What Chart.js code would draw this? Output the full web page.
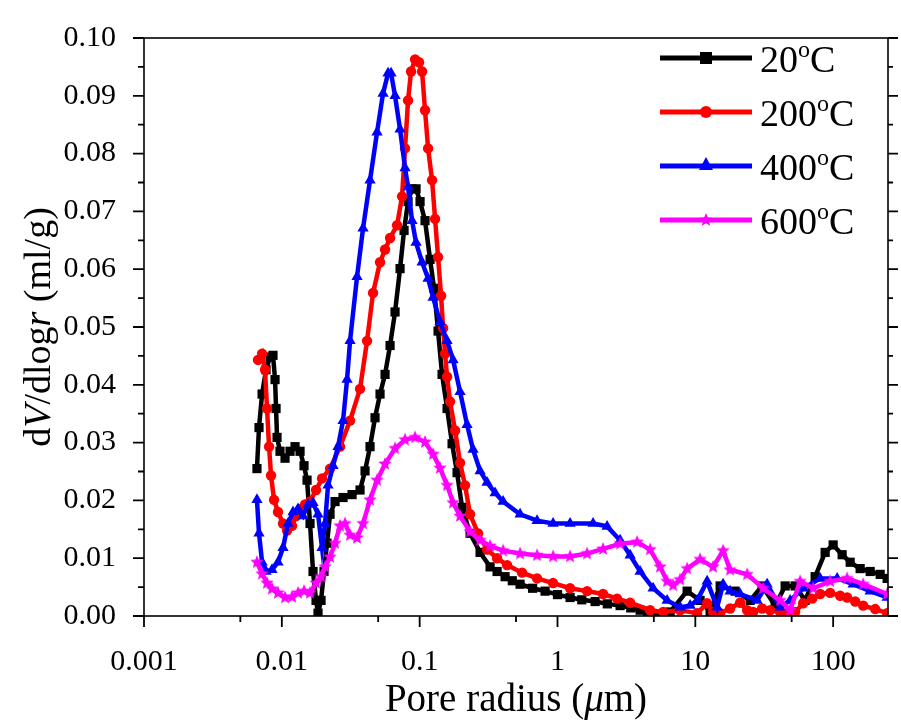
<!DOCTYPE html>
<html><head><meta charset="utf-8">
<script src="https://cdn.jsdelivr.net/npm/chart.js@4/dist/chart.umd.min.js"></script>
<style>html,body{margin:0;padding:0;background:#fff}canvas{display:block}</style>
</head><body>
<canvas id="c" width="901" height="724"></canvas>
<script>
// ---- data ----
const seriesNames = ['20', '200', '400', '600'];           // temperature, °C
const xTickValues = [0.001, 0.01, 0.1, 1, 10, 100];
const xTickLabels = ['0.001', '0.01', '0.1', '1', '10', '100'];
const yTickValues = [0, 0.01, 0.02, 0.03, 0.04, 0.05, 0.06, 0.07, 0.08, 0.09, 0.10];

const radius20 = [0.0066,0.00683,0.00719,0.00768,0.00821,0.00863,0.00893,0.00908,0.00923,0.0097,0.01055,0.01147,0.01247,0.01356,0.01449,0.01524,0.01602,0.01684,0.01771,0.01831,0.01925,0.02024,0.02128,0.02238,0.02433,0.02781,0.03232,0.03694,0.04016,0.04365,0.04746,0.05159,0.0561,0.061,0.06629,0.07207,0.07706,0.08237,0.08806,0.09417,0.1007,0.1094,0.119,0.1272,0.136,0.1454,0.1581,0.1719,0.1868,0.2031,0.2321,0.2744,0.3243,0.3646,0.4167,0.47,0.5353,0.66,0.8128,1.0,1.234,1.5,1.875,2.3,2.847,3.4,3.976,4.5,5.108,6.563,8.721,10.83,12.8,15.14,19.44,24.99,30.53,37.94,44.85,53.0,62.63,74.02,87.48,100,116.2,132.9,157,185.6,219.4,246.5];
const dv20 = [0.0255,0.0326,0.0384,0.0426,0.0448,0.0451,0.0409,0.0359,0.0309,0.0285,0.0273,0.0285,0.0293,0.0285,0.0260,0.0235,0.0160,0.0077,0.0027,0.0005,0.0027,0.0077,0.0126,0.0176,0.0198,0.0205,0.0210,0.0218,0.0251,0.0293,0.0343,0.0384,0.0418,0.0468,0.0526,0.0601,0.0667,0.0717,0.0739,0.0739,0.0717,0.0684,0.0617,0.0567,0.0493,0.0418,0.0359,0.0298,0.0248,0.0188,0.0143,0.0110,0.0085,0.0077,0.0068,0.0061,0.0055,0.0048,0.0043,0.0037,0.0032,0.0028,0.0025,0.0021,0.0018,0.0014,0.0010,0.0006,0.0003,0.0007,0.0043,0.0027,0.0007,0.0052,0.0043,0.0027,0.0052,0.0018,0.0052,0.0052,0.0027,0.0068,0.0110,0.0123,0.0106,0.0093,0.0082,0.0077,0.0072,0.0065];

const radius200 = [0.00672,0.00719,0.00755,0.00781,0.00808,0.00835,0.00878,0.00938,0.0102,0.01091,0.01186,0.01268,0.01356,0.01474,0.01602,0.01771,0.01957,0.02238,0.02645,0.03126,0.03694,0.04152,0.0459,0.05159,0.0561,0.061,0.06855,0.07452,0.07834,0.08237,0.08661,0.09261,0.09899,0.1041,0.1094,0.1151,0.123,0.1294,0.136,0.143,0.1479,0.1529,0.1581,0.1662,0.1807,0.1964,0.2135,0.2321,0.2653,0.3084,0.3646,0.4309,0.5535,0.7112,0.9292,1.234,1.64,2.142,2.707,3.365,4.699,5.839,7.757,10.31,12.18,13.46,15.14,17.88,21.14,23.77,26.27,30.53,34.89,41.25,46.37,53.0,60.57,70.41,80.46,95.1,112.4,126.4,144.5,165.1,201.8,246.5];
const dv200 = [0.0443,0.0454,0.0426,0.0359,0.0293,0.0243,0.0201,0.0180,0.0160,0.0148,0.0156,0.0173,0.0185,0.0193,0.0198,0.0218,0.0238,0.0255,0.0293,0.0338,0.0393,0.0476,0.0559,0.0612,0.0634,0.0654,0.0676,0.0726,0.0809,0.0892,0.0942,0.0963,0.0958,0.0942,0.0875,0.0809,0.0754,0.0687,0.0621,0.0554,0.0498,0.0454,0.0414,0.0371,0.0321,0.0265,0.0226,0.0176,0.0143,0.0115,0.0100,0.0088,0.0075,0.0065,0.0057,0.0048,0.0043,0.0038,0.0030,0.0023,0.0010,0.0007,0.0010,0.0005,0.0022,0.0007,0.0005,0.0013,0.0023,0.0010,0.0007,0.0013,0.0010,0.0007,0.0005,0.0007,0.0022,0.0030,0.0038,0.0040,0.0035,0.0032,0.0025,0.0018,0.0012,0.0005];

const radius400 = [0.0066,0.00683,0.00719,0.00768,0.00849,0.00938,0.0102,0.01109,0.01206,0.01311,0.01425,0.01549,0.01684,0.01831,0.01957,0.02059,0.02164,0.02353,0.02557,0.02781,0.02973,0.03126,0.03513,0.03884,0.04365,0.04908,0.05425,0.05899,0.06202,0.06629,0.07207,0.07834,0.08237,0.08806,0.09417,0.1041,0.1151,0.1251,0.1406,0.1581,0.1748,0.1964,0.2208,0.2441,0.2744,0.3084,0.3526,0.403,0.5353,0.7112,0.9292,1.234,1.813,2.29,2.847,3.365,3.976,4.941,6.243,7.757,9.17,10.31,12.18,14.39,15.91,17.88,21.14,28.09,33.19,41.25,48.75,60.57,80.46,106.9,139.7,185.6,246.5];
const dv400 = [0.0201,0.0143,0.0093,0.0077,0.0080,0.0093,0.0118,0.0160,0.0180,0.0185,0.0173,0.0193,0.0196,0.0176,0.0118,0.0160,0.0226,0.0260,0.0293,0.0338,0.0409,0.0476,0.0587,0.0671,0.0754,0.0837,0.0904,0.0939,0.0939,0.0900,0.0842,0.0775,0.0742,0.0684,0.0646,0.0612,0.0584,0.0551,0.0509,0.0476,0.0443,0.0388,0.0331,0.0288,0.0251,0.0231,0.0213,0.0198,0.0176,0.0165,0.0160,0.0160,0.0160,0.0155,0.0131,0.0105,0.0077,0.0048,0.0027,0.0015,0.0018,0.0027,0.0060,0.0015,0.0055,0.0043,0.0038,0.0027,0.0055,0.0015,0.0027,0.0048,0.0065,0.0065,0.0055,0.0043,0.0032];

const radius600 = [0.0066,0.00719,0.00781,0.00849,0.00938,0.01055,0.01186,0.01311,0.01449,0.01602,0.01771,0.01925,0.02059,0.02238,0.02433,0.02645,0.02875,0.03126,0.03513,0.03884,0.04365,0.04908,0.0561,0.06629,0.07834,0.09261,0.1094,0.1251,0.1406,0.1581,0.1748,0.1964,0.2321,0.2744,0.3243,0.403,0.5353,0.7112,0.9292,1.234,1.64,2.142,2.847,3.782,4.699,5.554,6.243,6.902,7.757,8.721,10.83,13.46,15.91,17.88,23.77,31.05,41.25,48.75,57.62,71.59,95.1,126.4,165.1,246.5];
const dv600 = [0.0093,0.0073,0.0057,0.0047,0.0040,0.0032,0.0033,0.0040,0.0043,0.0040,0.0057,0.0068,0.0085,0.0102,0.0126,0.0156,0.0160,0.0140,0.0135,0.0160,0.0201,0.0235,0.0263,0.0290,0.0305,0.0309,0.0301,0.0280,0.0256,0.0226,0.0196,0.0173,0.0146,0.0131,0.0121,0.0113,0.0108,0.0105,0.0103,0.0103,0.0108,0.0116,0.0125,0.0128,0.0115,0.0085,0.0060,0.0053,0.0063,0.0082,0.0098,0.0085,0.0113,0.0080,0.0072,0.0048,0.0027,0.0010,0.0060,0.0048,0.0060,0.0065,0.0055,0.0038];

// ---- styling ----
const SERIF = "'Liberation Serif','Times New Roman',serif";
const colors = ['#000000', '#ff0000', '#0000ff', '#ff00ff'];

function starImage(color, r) {
  const c = document.createElement('canvas');
  const s = Math.ceil(r * 2 + 2);
  c.width = s; c.height = s;
  const g = c.getContext('2d');
  g.fillStyle = color;
  g.beginPath();
  for (let i = 0; i < 10; i++) {
    const a = -Math.PI / 2 + i * Math.PI / 5;
    const rr = i % 2 ? r * 0.45 : r;
    g.lineTo(s / 2 + rr * Math.cos(a), s / 2 + rr * Math.sin(a));
  }
  g.closePath(); g.fill();
  return c;
}
const star = starImage('#ff00ff', 7);
const pointStyles = ['rect', 'circle', 'triangle', star];
const pointRadii = [6.5, 5.2, 6.5, 7];

function pts(xs, ys) {
  const n = Math.min(xs.length, ys.length), out = [];
  for (let i = 0; i < n; i++) out.push({x: xs[i], y: ys[i]});
  return out;
}
const allX = [radius20, radius200, radius400, radius600];
const allY = [dv20, dv200, dv400, dv600];

const datasets = seriesNames.map((name, i) => ({
  label: name + '°C',
  data: pts(allX[i], allY[i]),
  borderColor: colors[i],
  backgroundColor: colors[i],
  borderWidth: 4.5,
  pointStyle: pointStyles[i],
  pointRadius: pointRadii[i],
  pointBorderWidth: 0,
  pointBackgroundColor: colors[i],
  order: 4 - i,
  tension: 0
}));

// frame, ticks, titles, legend
const decor = {
  id: 'decor',
  afterDraw(chart) {
    const ctx = chart.ctx, a = chart.chartArea;
    const xs = chart.scales.x, ys = chart.scales.y;
    ctx.save();
    ctx.strokeStyle = '#000';
    ctx.lineWidth = 1.6;
    ctx.strokeRect(a.left, a.top, a.right - a.left, a.bottom - a.top);
    ctx.lineWidth = 1.8;
    ctx.beginPath();
    xTickValues.forEach(v => {
      const p = xs.getPixelForValue(v);
      ctx.moveTo(p, a.bottom); ctx.lineTo(p, a.bottom + 11);
      const m = v * 5;
      if (m < xs.max) { const q = xs.getPixelForValue(m); ctx.moveTo(q, a.bottom); ctx.lineTo(q, a.bottom + 6); }
    });
    yTickValues.forEach((v, i) => {
      const p = ys.getPixelForValue(v);
      ctx.moveTo(a.left, p); ctx.lineTo(a.left - 11, p);
      ctx.moveTo(a.right, p); ctx.lineTo(a.right + 10, p);
      if (i < yTickValues.length - 1) {
        const q = ys.getPixelForValue(v + 0.005);
        ctx.moveTo(a.left, q); ctx.lineTo(a.left - 6, q);
        ctx.moveTo(a.right, q); ctx.lineTo(a.right + 5, q);
      }
    });
    ctx.stroke();

    function drawParts(parts, size) {
      let total = 0;
      parts.forEach(p => { ctx.font = (p[1] ? 'italic ' : '') + size + 'px ' + SERIF; p.w = ctx.measureText(p[0]).width; total += p.w; });
      let x = -total / 2;
      parts.forEach(p => { ctx.font = (p[1] ? 'italic ' : '') + size + 'px ' + SERIF; ctx.fillText(p[0], x, 0); x += p.w; });
    }
    ctx.fillStyle = '#000';
    ctx.textBaseline = 'alphabetic';
    ctx.textAlign = 'left';
    ctx.save();
    ctx.translate((a.left + a.right) / 2, 711);
    drawParts([['Pore radius (', false], ['\u03bc', true], ['m)', false]], 39);
    ctx.restore();
    ctx.save();
    ctx.translate(50, (a.top + a.bottom) / 2);
    ctx.rotate(-Math.PI / 2);
    drawParts([['d', false], ['V', true], ['/dlog', false], ['r', true], [' (ml/g)', false]], 38);
    ctx.restore();

    chart.data.datasets.forEach((ds, i) => {
      const cy = 58 + 54 * i;
      ctx.strokeStyle = ds.borderColor;
      ctx.lineWidth = 5;
      ctx.beginPath(); ctx.moveTo(660, cy); ctx.lineTo(752, cy); ctx.stroke();
      ctx.fillStyle = ds.borderColor;
      const mx = 706;
      if (i === 0) { ctx.fillRect(mx - 6, cy - 6, 12, 12); }
      else if (i === 1) { ctx.beginPath(); ctx.arc(mx, cy, 6, 0, Math.PI * 2); ctx.fill(); }
      else if (i === 2) { ctx.beginPath(); ctx.moveTo(mx, cy - 9); ctx.lineTo(mx + 7, cy + 4); ctx.lineTo(mx - 7, cy + 4); ctx.closePath(); ctx.fill(); }
      else { ctx.drawImage(star, mx - star.width / 2, cy - star.height / 2); }
      ctx.fillStyle = '#000';
      ctx.font = '38px ' + SERIF;
      let tx = 760;
      ctx.fillText(seriesNames[i], tx, cy + 14);
      tx += ctx.measureText(seriesNames[i]).width;
      ctx.font = '24px ' + SERIF;
      ctx.fillText('o', tx, cy - 1);
      tx += ctx.measureText('o').width;
      ctx.font = '38px ' + SERIF;
      ctx.fillText('C', tx, cy + 14);
    });
    ctx.restore();
  }
};

new Chart(document.getElementById('c'), {
  type: 'line',
  data: { datasets },
  options: {
    responsive: false,
    animation: false,
    layout: { padding: { top: 15, right: 13, left: 0, bottom: 0 } },
    plugins: { legend: { display: false }, tooltip: { enabled: false } },
    scales: {
      x: {
        type: 'logarithmic', min: 0.001, max: 250,
        grid: { display: false }, border: { display: false },
        afterBuildTicks: s => { s.ticks = xTickValues.map(v => ({ value: v })); },
        afterFit: s => { s.height = 108; },
        ticks: {
          autoSkip: false, maxRotation: 0, padding: 20,
          color: '#000', font: { family: SERIF, size: 30 },
          callback: (v) => { const i = xTickValues.indexOf(v); return i >= 0 ? xTickLabels[i] : ''; }
        }
      },
      y: {
        type: 'linear', min: 0, max: 0.1,
        grid: { display: false }, border: { display: false },
        afterBuildTicks: s => { s.ticks = yTickValues.map(v => ({ value: v })); },
        afterFit: s => { s.width = 144; },
        ticks: {
          padding: 20, color: '#000', font: { family: SERIF, size: 30 },
          callback: v => Number(v).toFixed(2)
        }
      }
    }
  },
  plugins: [decor]
});
</script>
</body></html>
